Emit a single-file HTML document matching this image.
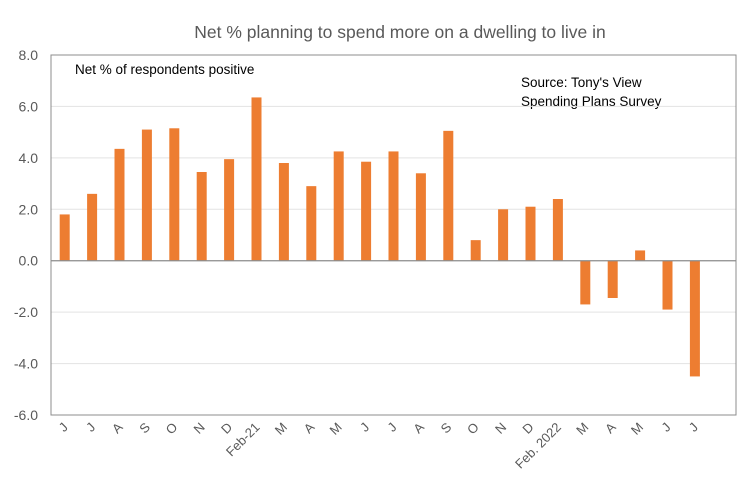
<!DOCTYPE html>
<html><head><meta charset="utf-8"><style>
html,body{margin:0;padding:0;background:#fff;}
svg{display:block;font-family:"Liberation Sans",sans-serif;}
</style></head><body>
<svg id="c" width="752" height="492">
<text x="400" y="38" text-anchor="middle" font-size="17.5" fill="#595959">Net % planning to spend more on a dwelling to live in</text>
<text x="75" y="74" font-size="13.5" fill="#000">Net % of respondents positive</text>
<text x="521" y="87" font-size="13.5" fill="#000">Source: Tony's View</text>
<text x="521" y="106" font-size="13.5" fill="#000">Spending Plans Survey</text>
<g id="grid"></g><g id="bars"></g><g id="axes"></g>
</svg>
<script>
const categories=["J","J","A","S","O","N","D","Feb-21","M","A","M","J","J","A","S","O","N","D","Feb. 2022","M","A","M","J","J"];
const values=[1.8,2.6,4.35,5.1,5.15,3.45,3.95,6.35,3.8,2.9,4.25,3.85,4.25,3.4,5.05,0.8,2.0,2.1,2.4,-1.7,-1.45,0.4,-1.9,-4.5];
const yTicks=[8,6,4,2,0,-2,-4,-6];
const NS="http://www.w3.org/2000/svg";
const L=51,R=736,T=55,B=415,yMin=-6,yMax=8,slots=25;
const step=(R-L)/slots;
function y(v){return T+(yMax-v)/(yMax-yMin)*(B-T);}
function x(i){return L+step*(i+0.5);}
function mk(t,a,p){const e=document.createElementNS(NS,t);for(const k in a)e.setAttribute(k,a[k]);p.appendChild(e);return e;}
const grid=document.getElementById('grid'),bars=document.getElementById('bars'),axes=document.getElementById('axes');
yTicks.forEach(v=>{
 if(v!==0&&v!==yMax&&v!==yMin){const g=mk('line',{x1:L,x2:R,y1:y(v),y2:y(v),stroke:'#e3e3e3','stroke-width':1},grid);
 
 }
 const t=mk('text',{x:38,y:y(v)+5,'text-anchor':'end','font-size':14,fill:'#595959'},axes);
 t.textContent=v.toFixed(1);
 
 
});
values.forEach((v,i)=>{
 const y0=y(0),y1=y(v);
 const b=mk('rect',{x:x(i)-5,y:Math.min(y0,y1),width:10,height:Math.abs(y1-y0),fill:'#ed7d31'},bars);
 
 
});
categories.forEach((c,i)=>{
 const xx=x(i)+4,yy=428;
 const t=mk('text',{x:xx,y:yy,'text-anchor':'end','font-size':13,fill:'#595959',transform:`rotate(-45 ${xx} ${yy})`},axes);
 t.textContent=c;
 
 
});
const z=mk('line',{x1:L,x2:R,y1:y(0),y2:y(0),stroke:'#8c8c8c','stroke-width':1.2},axes);


const f=mk('rect',{x:L,y:T,width:R-L,height:B-T,fill:'none',stroke:'#8c8c8c','stroke-width':1},axes);


</script>
</body></html>
